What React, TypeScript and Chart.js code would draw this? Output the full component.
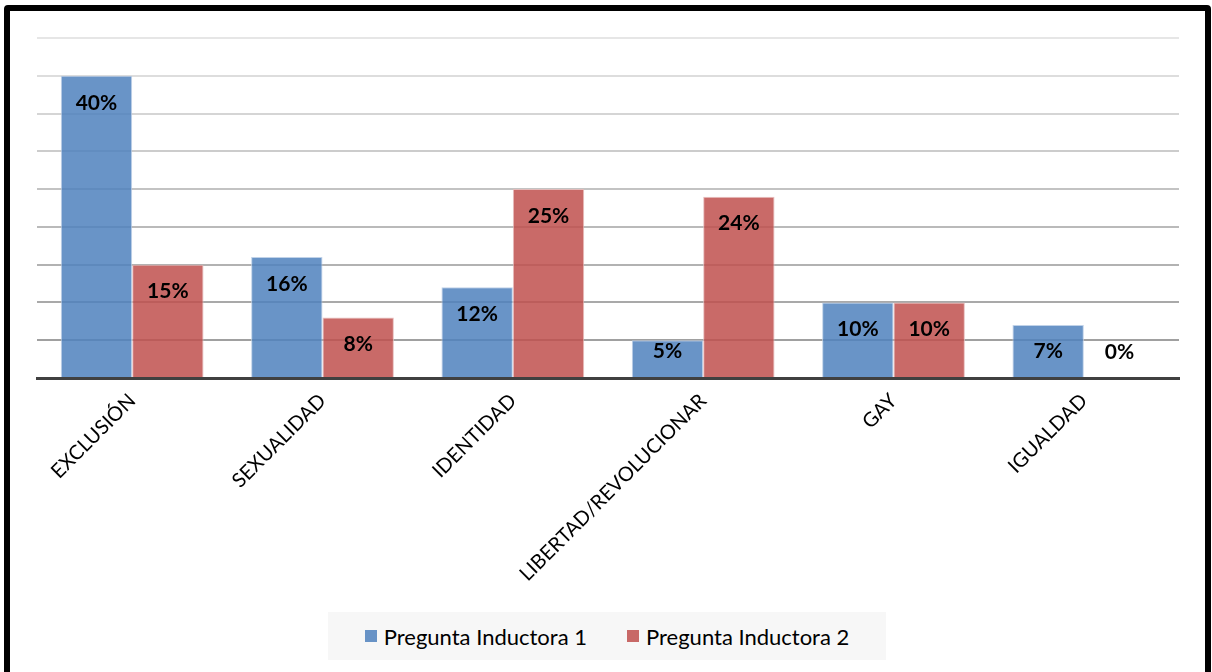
import React, { useEffect, useRef } from "react";
import { Chart, registerables } from "chart.js";

Chart.register(...registerables);

const categories = ["EXCLUSIÓN", "SEXUALIDAD", "IDENTIDAD", "LIBERTAD/REVOLUCIONAR", "GAY", "IGUALDAD"];
const serie1 = [40, 16, 12, 5, 10, 7];
const serie2 = [15, 8, 25, 24, 10, 0];
const seriesNames = ["Pregunta Inductora 1", "Pregunta Inductora 2"];
const yMax = 45;
const yStep = 5;

const FONT = "Lato, 'Open Sans', sans-serif";
const BLUE = "rgba(79,129,189,0.85)";
const RED = "rgba(192,80,77,0.85)";

const labelPlugin = {
  id: "valueLabels",
  afterDatasetsDraw(chart: any) {
    const ctx = chart.ctx;
    ctx.save();
    ctx.font = `bold 21px ${FONT}`;
    ctx.fillStyle = "#000";
    ctx.textAlign = "center";
    ctx.textBaseline = "middle";
    chart.data.datasets.forEach((ds: any, di: number) => {
      const meta = chart.getDatasetMeta(di);
      meta.data.forEach((bar: any, i: number) => {
        const y = Math.min(bar.y + 27, bar.base - 26);
        ctx.fillText(ds.data[i] + "%", bar.x, y);
      });
    });
    ctx.restore();
  },
};

function gridColor(v: number) {
  if (v === 0) return "rgba(0,0,0,0)";
  const t = (v - yStep) / (yMax - yStep);
  const c = Math.round(160 + t * (230 - 160));
  return `rgb(${c},${c},${c})`;
}

export default function App() {
  const ref = useRef<HTMLCanvasElement>(null);
  useEffect(() => {
    document.body.style.margin = "0";
    document.body.style.overflow = "hidden";
    const chart = new Chart(ref.current as HTMLCanvasElement, {
      type: "bar",
      data: {
        labels: categories,
        datasets: [
          { label: seriesNames[0], data: serie1, backgroundColor: BLUE, borderColor: "rgba(185,205,230,0.9)", borderWidth: 1, categoryPercentage: 0.75, barPercentage: 1.0 },
          { label: seriesNames[1], data: serie2, backgroundColor: RED, borderColor: "rgba(230,185,184,0.9)", borderWidth: 1, categoryPercentage: 0.75, barPercentage: 1.0 },
        ],
      },
      options: {
        animation: false,
        responsive: false,
        layout: { padding: { left: 37, right: 33, top: 38, bottom: 0 } },
        plugins: { legend: { display: false }, tooltip: { enabled: false } },
        scales: {
          x: {
            grid: { display: false },
            border: { display: true, color: "#404040", width: 3 },
            ticks: {
              minRotation: 45,
              maxRotation: 45,
              color: "#000",
              font: { family: FONT, size: 20 },
              padding: 3,
            },
            afterFit: (scale: any) => {
              scale.height = 672 - 378;
            },
          },
          y: {
            min: 0,
            max: yMax,
            ticks: { display: false, stepSize: yStep },
            border: { display: false },
            grid: {
              drawTicks: false,
              lineWidth: 2,
              color: (ctx: any) => gridColor(ctx.tick ? ctx.tick.value : 0),
            },
            afterFit: (scale: any) => {
              scale.width = 0;
            },
          },
        },
      },
      plugins: [labelPlugin],
    });
    return () => chart.destroy();
  }, []);

  return (
    <div style={{ position: "fixed", left: 0, top: 0, width: 1212, height: 672, background: "#fff", overflow: "hidden", fontFamily: FONT }}>
      <div style={{ position: "absolute", left: 4, top: 5, width: 1195, height: 700, border: "6px solid #000", borderRadius: 4, boxSizing: "content-box" }} />
      <canvas ref={ref} width={1212} height={672} style={{ position: "absolute", left: 0, top: 0, width: 1212, height: 672 }} />
      <div style={{ position: "absolute", left: 328, top: 612, width: 558, height: 48, background: "#f7f7f7", display: "flex", alignItems: "center", justifyContent: "center", gap: 40, fontSize: 22, color: "#000" }}>
        <div style={{ display: "flex", alignItems: "center" }}>
          <span style={{ display: "inline-block", width: 12, height: 12, background: BLUE, marginRight: 7 }} />
          {seriesNames[0]}
        </div>
        <div style={{ display: "flex", alignItems: "center" }}>
          <span style={{ display: "inline-block", width: 12, height: 12, background: RED, marginRight: 7 }} />
          {seriesNames[1]}
        </div>
      </div>
    </div>
  );
}
